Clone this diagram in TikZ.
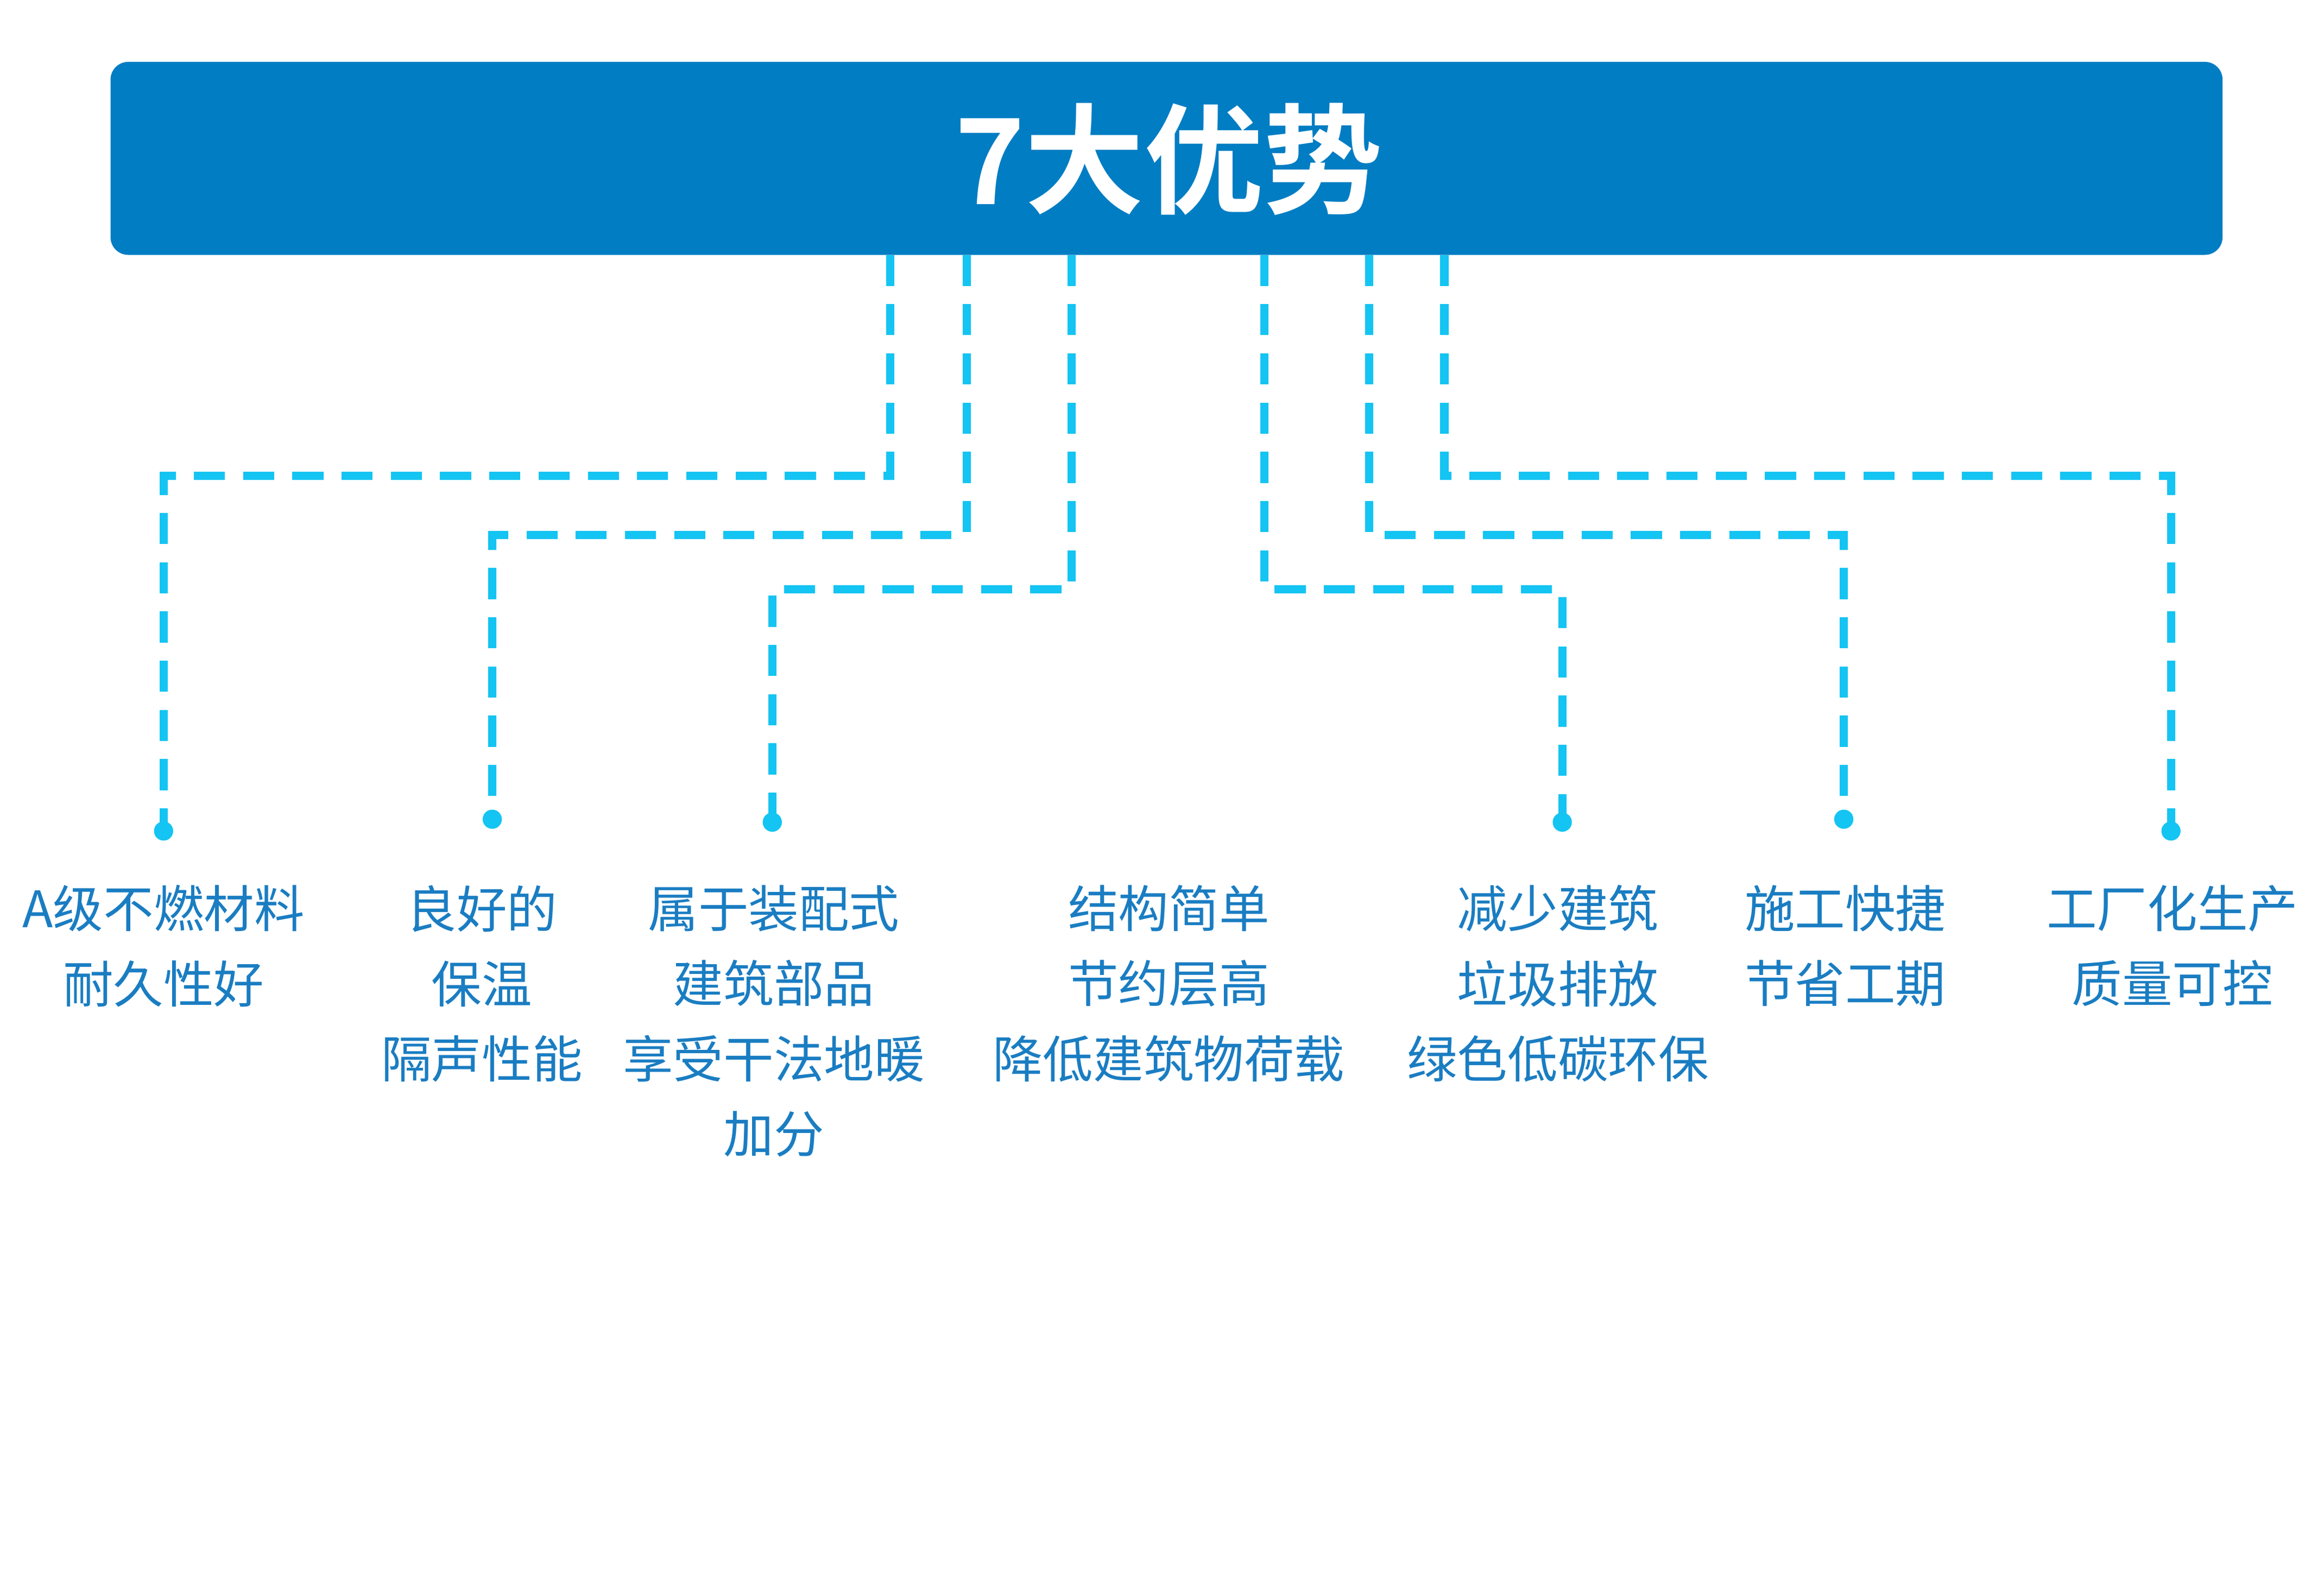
\documentclass[tikz,border=0pt]{standalone}
\usepackage{fontspec}
\setmainfont{Noto Sans CJK SC}
\newfontfamily\cjkbold{Noto Sans CJK SC Bold}
\usetikzlibrary{positioning}
\definecolor{bannerblue}{HTML}{007DC3}
\definecolor{linecyan}{HTML}{14C4F2}
\definecolor{textblue}{HTML}{1A7DC2}
\begin{document}
\begin{tikzpicture}[x=0.01cm,y=-0.01cm]
\tikzstyle{link_style} = [draw=linecyan, line width=1.6pt, dash pattern=on 6pt off 3.5pt]
\tikzstyle{dot_style} = [circle, fill=linecyan, inner sep=0pt, minimum size=0.13cm]
\tikzstyle{item_style} = [text=textblue, align=center, anchor=north, inner sep=0pt, font=\fontsize{9.7}{14.5}\selectfont]

  \useasboundingbox (0,0) rectangle (1568,1083);
  \fill[bannerblue, rounded corners=0.12cm] (75,42) rectangle (1508,173);
  \node[text=white, font=\cjkbold\fontsize{23}{23}\selectfont] (title) at (793,108) {7大优势};

  % top ends
  \coordinate (t1) at (604,173);
  \coordinate (t2) at (656,173);
  \coordinate (t3) at (727,173);
  \coordinate (t4) at (858,173);
  \coordinate (t5) at (929,173);
  \coordinate (t6) at (980,173);

  \node[dot_style] (d1) at (111,564) {};
  \node[dot_style] (d2) at (334,556) {};
  \node[dot_style] (d3) at (524,558) {};
  \node[dot_style] (d4) at (1060,558) {};
  \node[dot_style] (d5) at (1251,556) {};
  \node[dot_style] (d6) at (1473,564) {};

  \draw[link_style] (t1) -- ++(0,150) -| (d1.center);
  \draw[link_style] (t2) -- ++(0,190) -| (d2.center);
  \draw[link_style] (t3) -- ++(0,227) -| (d3.center);
  \draw[link_style] (t4) -- ++(0,227) -| (d4.center);
  \draw[link_style] (t5) -- ++(0,190) -| (d5.center);
  \draw[link_style] (t6) -- ++(0,150) -| (d6.center);

  \node[item_style] (i1) at (111,600) {A级不燃材料\\耐久性好};
  \node[item_style] (i2) at (327,600) {良好的\\保温\\隔声性能};
  \node[item_style] (i3) at (525,600) {属于装配式\\建筑部品\\享受干法地暖\\加分};
  \node[item_style] (i4) at (793,600) {结构简单\\节约层高\\降低建筑物荷载};
  \node[item_style] (i5) at (1057,600) {减少建筑\\垃圾排放\\绿色低碳环保};
  \node[item_style] (i6) at (1252,600) {施工快捷\\节省工期};
  \node[item_style] (i7) at (1474,600) {工厂化生产\\质量可控};
\end{tikzpicture}
\end{document}
